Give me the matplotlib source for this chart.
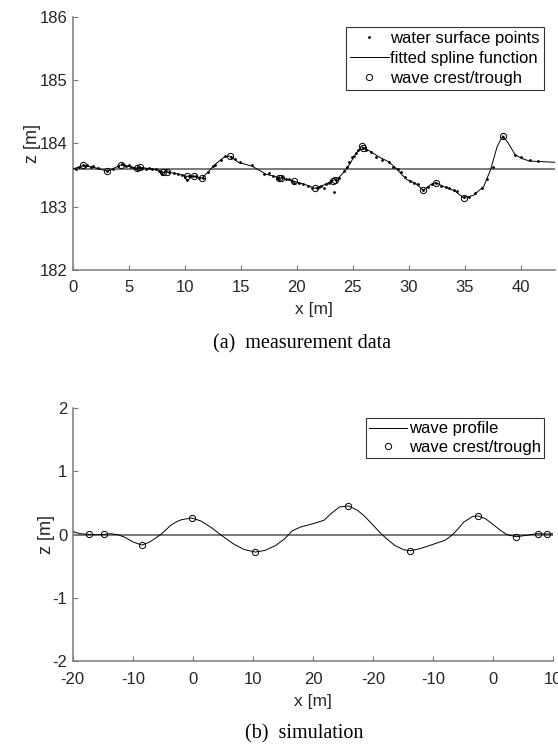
import numpy as np
import matplotlib
matplotlib.use('Agg')
import matplotlib.pyplot as plt

plt.rcParams['font.family'] = ['Liberation Sans', 'DejaVu Sans']
plt.rcParams['font.size'] = 10
plt.rcParams['axes.unicode_minus'] = False

# ---- (a) measurement data ----
spline_x = [0.0, 0.95, 1.7, 3.1, 4.3, 5.1, 5.7, 6.0, 6.9, 7.8, 8.1, 8.4, 9.3, 10.2, 10.8, 11.5,
            12.0, 12.6, 13.5, 14.0, 14.8, 16.0, 17.3, 18.4, 19.1, 19.8, 20.9, 21.6, 22.4, 23.2,
            23.7, 24.3, 24.8, 25.2, 25.8, 26.5, 27.4, 28.2, 28.9, 29.8, 30.6, 31.3, 31.9, 32.4,
            33.1, 34.1, 34.9, 35.8, 36.7, 37.3, 37.9, 38.4, 38.9, 39.5, 40.1, 40.8, 42.0, 43.1]
spline_z = [183.595, 183.65, 183.63, 183.56, 183.66, 183.63, 183.61, 183.62, 183.60, 183.57,
            183.54, 183.55, 183.52, 183.48, 183.48, 183.45, 183.53, 183.65, 183.78, 183.80,
            183.70, 183.64, 183.51, 183.46, 183.43, 183.40, 183.34, 183.29, 183.34, 183.41,
            183.45, 183.56, 183.69, 183.82, 183.95, 183.88, 183.78, 183.71, 183.60, 183.43,
            183.37, 183.26, 183.34, 183.38, 183.32, 183.25, 183.14, 183.18, 183.32, 183.58,
            183.95, 184.12, 184.0, 183.82, 183.76, 183.72, 183.71, 183.70]

points_x = [0.3, 0.6, 0.9, 1.1, 1.3, 1.6, 1.8, 2.3, 3.1, 3.6, 4.0, 4.4, 4.6, 4.8, 5.0, 5.2, 5.5,
            5.7, 5.9, 6.2, 6.5, 6.8, 7.1, 7.4, 7.7, 7.9, 8.0, 8.3, 8.6, 9.0, 9.4, 9.8, 10.0, 10.2,
            10.4, 10.7, 11.0, 11.3, 11.6, 12.1, 12.5, 12.7, 13.2, 13.6, 14.1, 14.5, 14.9, 16.0,
            17.1, 17.5, 17.9, 18.2, 18.4, 18.7, 19.0, 19.3, 19.6, 19.8, 20.2, 20.6, 21.0, 21.4,
            21.8, 22.0, 22.2, 22.4, 22.6, 22.9, 23.1, 23.3, 23.5, 23.8, 24.2, 24.5, 24.7, 24.9,
            25.1, 25.3, 25.5, 25.9, 26.2, 26.6, 27.1, 27.6, 28.2, 28.6, 29.0, 29.3, 29.7, 30.1,
            30.5, 30.8, 31.3, 31.7, 32.1, 32.4, 32.9, 33.3, 33.6, 34.0, 34.3, 34.9, 35.4, 35.9,
            36.5, 37.0, 37.5, 38.4, 39.5, 40.0, 40.8, 41.5]
points_z = [183.60, 183.63, 183.66, 183.64, 183.65, 183.63, 183.64, 183.61, 183.56, 183.59,
            183.64, 183.67, 183.65, 183.64, 183.65, 183.62, 183.61, 183.60, 183.62, 183.61,
            183.60, 183.61, 183.60, 183.59, 183.56, 183.55, 183.52, 183.56, 183.55, 183.53,
            183.52, 183.50, 183.47, 183.42, 183.49, 183.48, 183.49, 183.46, 183.45, 183.54,
            183.64, 183.66, 183.74, 183.80, 183.79, 183.76, 183.70, 183.66, 183.52, 183.53,
            183.48, 183.46, 183.44, 183.47, 183.43, 183.44, 183.41, 183.37, 183.38, 183.36,
            183.33, 183.29, 183.29, 183.31, 183.33, 183.30, 183.35, 183.38, 183.40, 183.23,
            183.42, 183.46, 183.56, 183.63, 183.70, 183.78, 183.80, 183.84, 183.89, 183.93,
            183.90, 183.86, 183.79, 183.74, 183.70, 183.63, 183.59, 183.55, 183.47, 183.40,
            183.38, 183.36, 183.27, 183.31, 183.36, 183.38, 183.33, 183.31, 183.30, 183.27,
            183.24, 183.15, 183.16, 183.22, 183.29, 183.43, 183.62, 184.10, 183.82, 183.78,
            183.73, 183.72]

peaks_a_x = [0.95, 3.1, 4.3, 5.7, 6.0, 8.1, 8.4, 10.2, 10.8, 11.5, 14.0, 18.4, 18.6, 19.8,
             21.6, 23.2, 23.4, 25.8, 25.9, 31.3, 32.4, 34.9, 38.4]
peaks_a_z = [183.65, 183.56, 183.66, 183.61, 183.62, 183.54, 183.55, 183.48, 183.48, 183.45,
             183.80, 183.46, 183.46, 183.40, 183.29, 183.41, 183.42, 183.95, 183.93, 183.26,
             183.37, 183.14, 184.12]
mean_a = 183.6

# ---- (b) simulation ----
profile_x = [-20.0, -18.8, -17.3, -16.1, -14.8, -13.7, -12.5, -11.4, -9.9, -8.46, -7.2, -6.3,
             -5.4, -4.5, -3.7, -2.8, -1.9, -0.18, 1.36, 3.1, 4.9, 6.7, 8.5, 10.36, 12.0, 13.8,
             15.3, 16.5, 17.9, 20.0, 21.8, 23.0, 24.4, 25.9, 27.4, 28.5, 29.5, 30.5, 31.5,
             32.6, 33.6, 35.1, 36.2, 37.75, 39.8, 41.9, 42.7, 43.4, 44.3, 45.1, 46.6, 47.5,
             48.7, 49.6, 50.5, 51.4, 52.3, 53.85, 55.5, 57.4, 58.9, 60.0]
profile_z = [0.05, 0.016, 0.005, 0.0, 0.005, 0.016, 0.0, -0.037, -0.116, -0.164, -0.116,
             -0.06, 0.0, 0.075, 0.148, 0.2, 0.237, 0.264, 0.216, 0.111, -0.02, -0.142, -0.232,
             -0.274, -0.248, -0.169, -0.063, 0.058, 0.121, 0.174, 0.227, 0.332, 0.438, 0.454,
             0.385, 0.3, 0.2, 0.1, 0.0, -0.09, -0.169, -0.237, -0.253, -0.222, -0.158, -0.09,
             -0.04, 0.016, 0.11, 0.2, 0.29, 0.296, 0.253, 0.19, 0.121, 0.055, 0.0, -0.032,
             -0.01, 0.016, 0.01, 0.016]
peaks_b_x = [-17.3, -14.8, -8.46, -0.18, 10.36, 25.9, 36.2, 47.5, 53.85, 57.4, 58.9]
peaks_b_z = [0.005, 0.005, -0.164, 0.264, -0.274, 0.454, -0.253, 0.296, -0.032, 0.016, 0.01]
ticks_b = [-20, -10, 0, 10, 20, 30, 40, 50, 60]
tick_labels_b = ['-20', '-10', '0', '10', '20', '-20', '-10', '0', '10']

axis_col = '#7a7a7a'
text_col = '#262626'


def style_axes(ax):
    for side in ['top', 'right']:
        ax.spines[side].set_visible(False)
    for side in ['left', 'bottom']:
        ax.spines[side].set_color(axis_col)
        ax.spines[side].set_linewidth(1.1)
    ax.tick_params(direction='in', length=3.5, width=0.8, color=axis_col,
                   labelcolor=text_col, labelsize=12)
    ax.tick_params(axis='x', pad=7.5)
    ax.tick_params(axis='y', pad=4)


fig = plt.figure(figsize=(5.58, 7.44), dpi=100)

ax1 = fig.add_axes([0.1303, 0.6371, 0.8643, 0.3405])
ax1.axhline(mean_a, color='#555555', lw=1.1, zorder=1)
ax1.plot(points_x, points_z, '.', color='black', ms=2.0, label='water surface points', zorder=2)
ax1.plot(spline_x, spline_z, '-', color='black', lw=0.7, label='fitted spline function', zorder=3)
ax1.plot(peaks_a_x, peaks_a_z, 'o', mfc='none', mec='black', ms=4.5, mew=0.7,
         label='wave crest/trough', zorder=4)
ax1.set_xlim(0, 43.06)
ax1.set_ylim(182, 186)
ax1.set_xticks(range(0, 45, 5))
ax1.set_yticks([182, 183, 184, 185, 186])
ax1.set_xlabel('x [m]', fontsize=12.5, color=text_col, labelpad=5)
ax1.set_ylabel('z [m]', fontsize=13, color=text_col, labelpad=-1)
style_axes(ax1)
leg1 = ax1.legend(loc='upper right', bbox_to_anchor=(0.977, 0.9605), fontsize=12,
                  handlelength=2.3, handletextpad=0.1, labelspacing=0.3, borderpad=0.25,
                  borderaxespad=0, fancybox=False, framealpha=1)
leg1.get_frame().set_edgecolor('#333333')
leg1.get_frame().set_linewidth(0.8)

ax2 = fig.add_axes([0.1303, 0.1110, 0.8613, 0.3406])
ax2.axhline(0, color='#555555', lw=1.1, zorder=1)
ax2.plot(profile_x, profile_z, '-', color='black', lw=0.7, label='wave profile', zorder=3)
ax2.plot(peaks_b_x, peaks_b_z, 'o', mfc='none', mec='black', ms=4.5, mew=0.7,
         label='wave crest/trough', zorder=4)
ax2.set_xlim(-20, 60)
ax2.set_ylim(-2, 2)
ax2.set_xticks(ticks_b)
ax2.set_xticklabels(tick_labels_b)
ax2.set_yticks([-2, -1, 0, 1, 2])
ax2.set_xlabel('x [m]', fontsize=12.5, color=text_col, labelpad=5)
ax2.set_ylabel('z [m]', fontsize=13, color=text_col, labelpad=-2)
style_axes(ax2)
leg2 = ax2.legend(loc='upper right', bbox_to_anchor=(0.981, 0.960), fontsize=12,
                  handlelength=2.3, handletextpad=0.1, labelspacing=0.2, borderpad=0.2,
                  borderaxespad=0, fancybox=False, framealpha=1)
leg2.get_frame().set_edgecolor('#333333')
leg2.get_frame().set_linewidth(0.8)

fig.text(0.542, 1 - 344 / 744, '(a)  measurement data', ha='center', va='center',
         family='Liberation Serif', fontsize=14.5, color='black')
fig.text(0.545, 1 - 734 / 744, '(b)  simulation', ha='center', va='center',
         family='Liberation Serif', fontsize=14.5, color='black')

fig.savefig('out.png', dpi=100)
